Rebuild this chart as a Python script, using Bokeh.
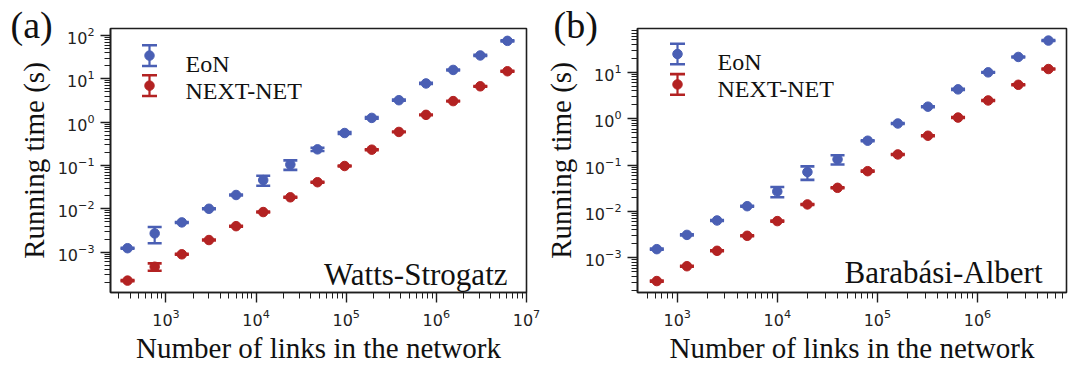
from bokeh.plotting import figure
from bokeh.models import Range1d, Label, LogTicker
from bokeh.layouts import row
from bokeh.embed import file_html
from bokeh.resources import INLINE

# ---------------- data ----------------
series_names = ["EoN", "NEXT-NET"]
panel_tags = ["(a)", "(b)"]
network_names = ["Watts-Strogatz", "Barabási-Albert"]
x_label = "Number of links in the network"
y_label = "Running time (s)"

# (a) Watts-Strogatz
ws_links = [375, 750, 1500, 3000, 6000, 12000, 24000, 48000, 96000,
            192000, 384000, 768000, 1536000, 3072000, 6144000]
ws_eon = [1.23e-3, 2.7e-3, 4.85e-3, 1.0e-2, 2.08e-2, 4.6e-2, 0.105, 0.235,
          0.56, 1.25, 3.2, 7.8, 16.0, 34.5, 75.0]
ws_eon_err = [3e-5, 1.1e-3, 1.2e-4, 2.5e-4, 5e-4, 0.012, 0.026, 0.02,
              0.03, 0.05, 0.1, 0.25, 0.4, 1.0, 2.0]
ws_next = [2.2e-4, 4.6e-4, 8.9e-4, 1.9e-3, 3.97e-3, 8.4e-3, 1.84e-2, 0.041,
           0.097, 0.231, 0.593, 1.47, 3.05, 6.7, 14.9]
ws_next_err = [6e-6, 9e-5, 2e-5, 5e-5, 1e-4, 2e-4, 4e-4, 1e-3,
               2e-3, 5e-3, 0.012, 0.03, 0.06, 0.13, 0.3]

# (b) Barabasi-Albert
ba_links = [625, 1250, 2500, 5000, 10000, 20000, 40000, 80000, 160000,
            320000, 640000, 1280000, 2560000, 5120000]
ba_eon = [1.54e-3, 3.13e-3, 6.4e-3, 1.3e-2, 2.7e-2, 0.071, 0.133, 0.336,
          0.79, 1.82, 4.3, 10.0, 21.5, 48.5]
ba_eon_err = [4e-5, 8e-5, 1.5e-4, 3e-4, 6.7e-3, 0.023, 0.03, 0.008,
              0.02, 0.04, 0.1, 0.2, 0.45, 1.0]
ba_next = [3.16e-4, 6.6e-4, 1.42e-3, 2.99e-3, 6.2e-3, 1.42e-2, 3.24e-2, 0.074,
           0.17, 0.43, 1.06, 2.48, 5.4, 11.8]
ba_next_err = [8e-6, 1.5e-5, 3e-5, 7e-5, 1.5e-4, 3e-4, 8e-4, 2e-3,
               4e-3, 0.01, 0.025, 0.06, 0.12, 0.3]

# ---------------- style ----------------
BLUE = "#4a5fb4"
RED = "#b32222"
DARK = "#1e1e1e"
SERIF = "Liberation Serif"
SANS = "DejaVu Sans"
H = 366


def to_data(px, py, frame, rng):
    fl, ft, fr, fb = frame
    lx0, lx1, ly0, ly1 = rng
    x = 10 ** (lx0 + (px - fl) / (fr - fl) * (lx1 - lx0))
    y = 10 ** (ly1 - (py - ft) / (fb - ft) * (ly1 - ly0))
    return x, y


def errorbars(p, xs, ys, errs, color):
    lo = [y - e for y, e in zip(ys, errs)]
    hi = [y + e for y, e in zip(ys, errs)]
    p.segment(x0=xs, y0=lo, x1=xs, y1=hi, line_color=color, line_width=2.2)
    p.scatter(x=xs, y=hi, marker="dash", size=14, line_color=color, line_width=2.6)
    p.scatter(x=xs, y=lo, marker="dash", size=14, line_color=color, line_width=2.6)
    p.scatter(x=xs, y=ys, marker="circle", size=9.5, fill_color=color,
              line_color=color, line_width=1)


def panel(fig_w, frame, rng, links, eon, eon_err, nxt, nxt_err,
          tag, tag_offset, net_name, net_pos, leg_x, leg_text_x, leg_y):
    fl, ft, fr, fb = frame
    p = figure(width=fig_w, height=H, x_axis_type="log", y_axis_type="log",
               x_range=Range1d(10 ** rng[0], 10 ** rng[1]),
               y_range=Range1d(10 ** rng[2], 10 ** rng[3]),
               output_backend="svg", toolbar_location=None,
               min_border_left=fl, min_border_right=fig_w - fr,
               min_border_top=ft, min_border_bottom=H - fb)
    p.grid.visible = False
    p.outline_line_color = DARK
    p.outline_line_width = 1.6
    p.background_fill_color = "white"
    p.border_fill_color = "white"

    # panel tag: title pulled to the top-left corner
    p.title.text = tag
    p.title.text_font = SERIF
    p.title.text_font_size = "38px"
    p.title.text_font_style = "normal"
    p.title.text_color = "#111111"
    p.title.align = "left"
    p.title.vertical_align = "bottom"
    p.title.offset = tag_offset
    p.title.standoff = -34

    for ax in (p.xaxis[0], p.yaxis[0]):
        ax.ticker = LogTicker(num_minor_ticks=10)
        ax.axis_line_color = DARK
        ax.axis_line_width = 1.6
        ax.major_tick_line_color = DARK
        ax.minor_tick_line_color = DARK
        ax.major_tick_out = 10
        ax.major_tick_in = 0
        ax.minor_tick_out = 6
        ax.minor_tick_in = 0
        ax.major_tick_line_width = 1.4
        ax.minor_tick_line_width = 1.0
        ax.major_label_text_font = SANS
        ax.major_label_text_font_size = "16px"
        ax.major_label_text_color = "#222222"
        ax.major_label_standoff = 6
        ax.axis_label_text_font = SERIF
        ax.axis_label_text_font_size = "29px"
        ax.axis_label_text_font_style = "normal"
        ax.axis_label_text_color = "#111111"
    p.xaxis[0].axis_label = x_label
    p.yaxis[0].axis_label = y_label
    p.xaxis[0].axis_label_standoff = 3
    p.yaxis[0].axis_label_standoff = 5

    errorbars(p, links, eon, eon_err, BLUE)
    errorbars(p, links, nxt, nxt_err, RED)

    # legend (handles drawn as error-bar symbols)
    for name, color, yc, yb in zip(series_names, [BLUE, RED], leg_y, [62, 89.5]):
        hx, hy = to_data(leg_x, yc, frame, rng)
        _, htop = to_data(leg_x, yc - 10.5, frame, rng)
        _, hbot = to_data(leg_x, yc + 10.5, frame, rng)
        p.segment(x0=[hx], y0=[hbot], x1=[hx], y1=[htop], line_color=color, line_width=2.2)
        p.scatter(x=[hx, hx], y=[htop, hbot], marker="dash", size=15,
                  line_color=color, line_width=2.6)
        p.scatter(x=[hx], y=[hy], marker="circle", size=9.5, fill_color=color,
                  line_color=color)
        tx, ty = to_data(leg_text_x, yb, frame, rng)
        p.add_layout(Label(x=tx, y=ty, text=name, text_font=SERIF,
                           text_font_size="24px", text_color="#111111",
                           text_align="left", text_baseline="alphabetic"))

    nx, ny = to_data(net_pos[0], net_pos[1], frame, rng)
    p.add_layout(Label(x=nx, y=ny, text=net_name, text_font=SERIF,
                       text_font_size="31px", text_color="#111111",
                       text_align="right", text_baseline="alphabetic"))
    return p


W1 = 540
W2 = 1069 - W1
p1 = panel(W1, (110, 26, 526, 294), (2.385, 7.0, -3.932, 2.16),
           ws_links, ws_eon, ws_eon_err, ws_next, ws_next_err,
           panel_tags[0], 10 - 110, network_names[0], (507, 276),
           149, 185, [53.5, 84])
off = W1
p2 = panel(W2, (637 - off, 28, 1066 - off, 297), (2.603, 6.89, -3.747, 1.946),
           ba_links, ba_eon, ba_eon_err, ba_next, ba_next_err,
           panel_tags[1], 553 - 637, network_names[1], (1042 - off, 277),
           677 - off, 717 - off, [54, 85])

layout = row(p1, p2)
open("out.html", "w").write(file_html(layout, INLINE))
